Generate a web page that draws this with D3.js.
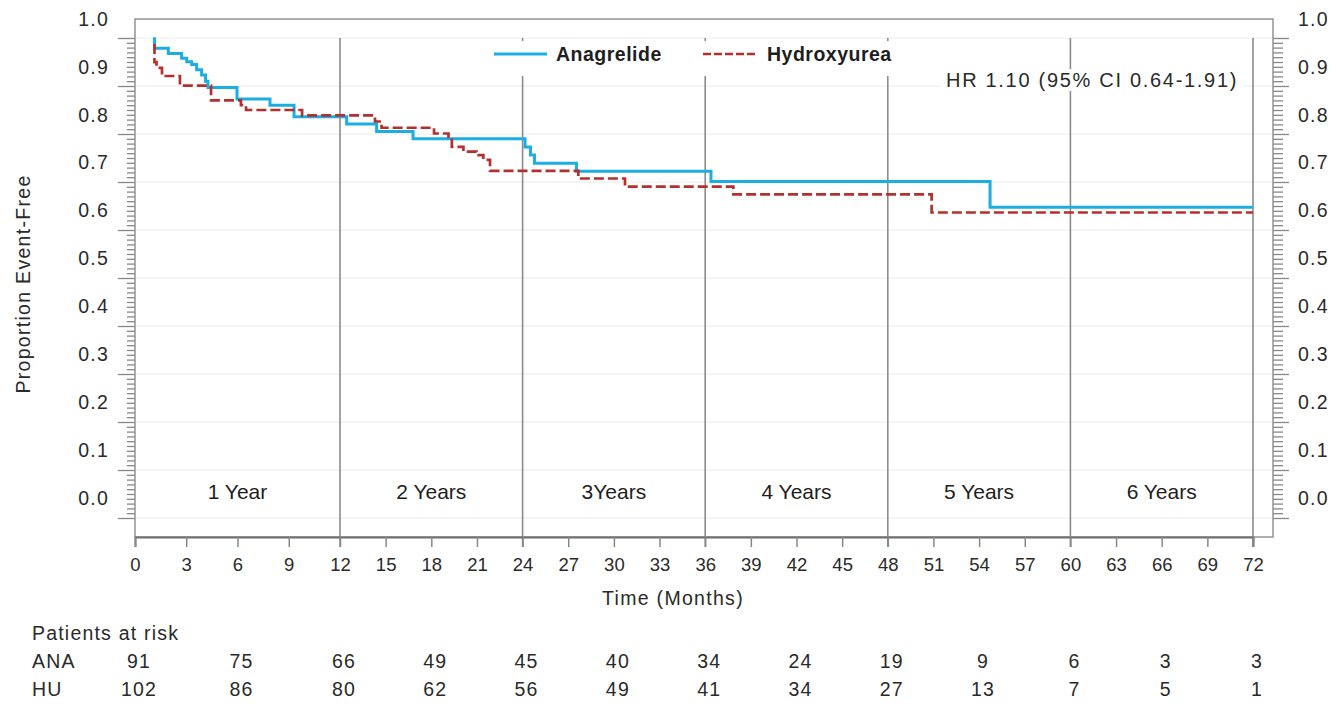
<!DOCTYPE html>
<html><head><meta charset="utf-8">
<script src="https://cdn.jsdelivr.net/npm/d3@7"></script>
<style>
html,body{margin:0;padding:0;background:#fff;}
svg{display:block;}
text{font-family:"Liberation Sans",Arial,Helvetica,sans-serif;fill:#2a2a2a;}
</style></head><body>
<svg id="chart" width="1337" height="704"></svg>
<script>
// ---------------- data ----------------
const anaTimes = [1.14, 1.14, 1.95, 2.73, 3.03, 3.32, 3.61, 3.90, 4.13, 4.27, 5.97, 7.90, 9.31, 12.44, 14.41, 16.80, 24.16, 24.52, 24.78, 27.54, 36.38, 54.72, 72];
const anaSurv  = [0.962, 0.939, 0.928, 0.918, 0.911, 0.905, 0.894, 0.883, 0.870, 0.857, 0.833, 0.820, 0.796, 0.781, 0.765, 0.750, 0.733, 0.716, 0.699, 0.682, 0.661, 0.607, 0.607];
const huTimes  = [1.14, 1.14, 1.26, 1.58, 2.63, 4.45, 6.20, 6.50, 9.78, 14.30, 14.73, 18.18, 19.13, 19.35, 20.11, 20.98, 21.42, 21.86, 27.66, 30.73, 37.85, 50.88, 72];
const huSurv   = [0.948, 0.910, 0.898, 0.881, 0.861, 0.830, 0.820, 0.810, 0.799, 0.786, 0.773, 0.761, 0.751, 0.733, 0.723, 0.716, 0.706, 0.683, 0.667, 0.650, 0.634, 0.596, 0.596];

const xTickValues = [0,3,6,9,12,15,18,21,24,27,30,33,36,39,42,45,48,51,54,57,60,63,66,69,72];
const yTickValues = [0,0.1,0.2,0.3,0.4,0.5,0.6,0.7,0.8,0.9,1.0];
const yearBoundaries = [12,24,36,48,60,72];
const yearLabels = ["1 Year","2 Years","3Years","4 Years","5 Years","6 Years"];
const yearLabelMonths = [6,18,30,42,54,66];
const riskTimes = [0,6,12,18,24,30,36,42,48,54,60,66,72];
const riskANA = [91,75,66,49,45,40,34,24,19,9,6,3,3];
const riskHU  = [102,86,80,62,56,49,41,34,27,13,7,5,1];
const seriesNames = ["Anagrelide","Hydroxyurea"];
const hrText = "HR 1.10 (95% CI 0.64-1.91)";

// ---------------- layout ----------------
const svg = d3.select("#chart");
svg.append("rect").attr("width",1337).attr("height",704).attr("fill","#fff");
const P = {left:135, right:1273, top:19, bottom:537};
const BLUE = "#1aaee3", RED = "#b3302e";

const xScale = d3.scaleLinear().domain([0,12,72]).range([P.left,340,1253]);
const yScale = d3.scaleLinear().domain([0,1]).range([498,19]);   // label registration
const yGrid  = d3.scaleLinear().domain([0,1]).range([518,38]);   // tick/grid registration

// gridlines
svg.append("g").selectAll("line").data(yTickValues).join("line")
  .attr("x1",P.left).attr("x2",P.right)
  .attr("y1",d=>yGrid(d)).attr("y2",d=>yGrid(d))
  .attr("stroke","#ececec").attr("stroke-width",1);

// vertical year lines
svg.append("g").selectAll("line").data(yearBoundaries).join("line")
  .attr("x1",d=>xScale(d)).attr("x2",d=>xScale(d))
  .attr("y1",yGrid(1)).attr("y2",P.bottom+10)
  .attr("stroke","#8c8c8c").attr("stroke-width",1.6);

// year labels
svg.append("g").selectAll("text").data(yearLabels).join("text")
  .attr("x",(d,i)=>xScale(yearLabelMonths[i])).attr("y",499)
  .attr("text-anchor","middle").style("font-size","21px").style("fill","#1e1e1e")
  .text(d=>d);

// curves
const line = d3.line().x(d=>xScale(d[0])).y(d=>yScale(d[1])).curve(d3.curveStepAfter);
const anaPts = anaTimes.map((t,i)=>[t,anaSurv[i]]);
const huPts = huTimes.map((t,i)=>[t,huSurv[i]]);
svg.append("path").attr("d",line(anaPts)).attr("fill","none")
  .attr("stroke",BLUE).attr("stroke-width",3);
svg.append("path").attr("d",line(huPts)).attr("fill","none")
  .attr("stroke",RED).attr("stroke-width",2.7).attr("stroke-dasharray","10,4");

// legend
const lg = svg.append("g");
lg.append("rect").attr("x",485).attr("y",41).attr("width",415).attr("height",35).attr("fill","#fff");
lg.append("line").attr("x1",494).attr("x2",547).attr("y1",54).attr("y2",54)
  .attr("stroke",BLUE).attr("stroke-width",3);
lg.append("text").attr("x",556).attr("y",61).text(seriesNames[0])
  .style("font-size","19.5px").style("font-weight","bold").style("letter-spacing","0.5px").style("fill","#1e1e1e");
lg.append("line").attr("x1",703).attr("x2",758).attr("y1",54).attr("y2",54)
  .attr("stroke",RED).attr("stroke-width",2.7).attr("stroke-dasharray","8,3");
lg.append("text").attr("x",767).attr("y",61).text(seriesNames[1])
  .style("font-size","19.5px").style("font-weight","bold").style("letter-spacing","0.5px").style("fill","#1e1e1e");

// HR annotation
const hrG = svg.append("g");
const hrRect = hrG.append("rect").attr("fill","#fff");
const hrT = hrG.append("text").attr("x",946).attr("y",87).text(hrText)
  .style("font-size","20px").style("letter-spacing","1.7px");
const bb = hrT.node().getBBox();
hrRect.attr("x",bb.x-4).attr("y",bb.y).attr("width",bb.width+8).attr("height",bb.height);

// frame
svg.append("rect").attr("x",P.left).attr("y",P.top).attr("width",P.right-P.left).attr("height",P.bottom-P.top)
  .attr("fill","none").attr("stroke","#9a9a9a").attr("stroke-width",1.6);

// y tick marks (left + right)
const minorVals = d3.range(0,101).filter(i=>i%10!==0).map(i=>i/100);
function tickAxis(axisFn, x, vals, size){
  const g = svg.append("g").attr("transform",`translate(${x},0)`)
    .call(axisFn(yGrid).tickValues(vals).tickSize(size).tickFormat(""));
  g.select(".domain").remove();
  g.selectAll("line").attr("stroke","#888").attr("stroke-width",1.3);
}
tickAxis(d3.axisLeft, P.left, yTickValues, 17);
tickAxis(d3.axisLeft, P.left, minorVals, 8);
tickAxis(d3.axisRight, P.right, yTickValues, 16);
tickAxis(d3.axisRight, P.right, minorVals, 10);

// y tick labels
function labelAxis(axisFn, x, pad){
  const g = svg.append("g").attr("transform",`translate(${x},0)`)
    .call(axisFn(yScale).tickValues(yTickValues).tickSize(0).tickPadding(pad).tickFormat(d3.format(".1f")));
  g.select(".domain").remove();
  g.selectAll("text").style("font-size","19.5px").style("letter-spacing","1.2px")
    .style("font-family",'"Liberation Sans",Arial,sans-serif').attr("fill","#2a2a2a");
}
labelAxis(d3.axisLeft, P.left, 26);
labelAxis(d3.axisRight, P.right, 25);

// x axis
const xg = svg.append("g").attr("transform",`translate(0,${P.bottom})`)
  .call(d3.axisBottom(xScale).tickValues(xTickValues).tickSize(10).tickPadding(11).tickFormat(d3.format("d")));
xg.select(".domain").attr("stroke","#6e6e6e").attr("stroke-width",2);
xg.selectAll(".tick line").attr("stroke","#888").attr("stroke-width",1.5);
xg.selectAll("text").style("font-size","18.5px").style("font-family",'"Liberation Sans",Arial,sans-serif').attr("fill","#2a2a2a");

// axis titles
svg.append("text").attr("x",673).attr("y",605).attr("text-anchor","middle")
  .style("font-size","19.5px").style("letter-spacing","1.3px").text("Time (Months)");
svg.append("text").attr("transform","translate(30,284) rotate(-90)").attr("text-anchor","middle")
  .style("font-size","19.5px").style("letter-spacing","1.3px").text("Proportion Event-Free");

// patients at risk table
const tbl = svg.append("g").style("font-size","19.5px").style("letter-spacing","1.2px");
tbl.append("text").attr("x",32).attr("y",640).text("Patients at risk");
tbl.append("text").attr("x",32).attr("y",668).text("ANA");
tbl.append("text").attr("x",32).attr("y",696).text("HU");
tbl.append("g").selectAll("text").data(riskANA).join("text")
  .attr("x",(d,i)=>xScale(riskTimes[i])+4).attr("y",668).attr("text-anchor","middle").text(d=>d);
tbl.append("g").selectAll("text").data(riskHU).join("text")
  .attr("x",(d,i)=>xScale(riskTimes[i])+4).attr("y",696).attr("text-anchor","middle").text(d=>d);
</script>
</body></html>
